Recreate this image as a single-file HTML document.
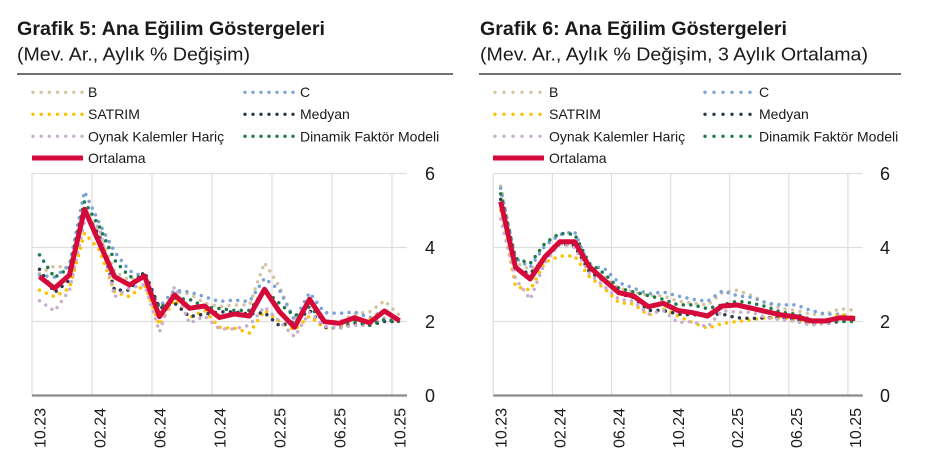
<!DOCTYPE html>
<html><head><meta charset="utf-8">
<style>
html,body{margin:0;padding:0;background:#fff;}
svg{display:block;}
text{font-family:"Liberation Sans",sans-serif;fill:#1a1a1a;}
.t{font-weight:bold;font-size:19.5px;}
.s{font-size:18px;}
.lg{font-size:14px;}
.yt{font-size:18px;text-anchor:middle;}
.xt{font-size:16px;text-anchor:end;}
.grid{stroke:#dedede;stroke-width:1.2;}
.ax{stroke:#8a8a8a;stroke-width:2.2;}
.d{fill:none;stroke-width:3.5;stroke-dasharray:0 7.5;stroke-linecap:round;stroke-linejoin:round;}
.r{fill:none;stroke:#d50a3a;stroke-width:5;stroke-linejoin:round;}
</style></head><body>
<svg width="936" height="476" viewBox="0 0 936 476" xmlns="http://www.w3.org/2000/svg">
<rect width="936" height="476" fill="#fff"/>

<!-- ===== LEFT ===== -->
<text class="t" x="17" y="35" textLength="308" lengthAdjust="spacingAndGlyphs">Grafik 5: Ana Eğilim Göstergeleri</text>
<text class="s" x="17" y="60.5" textLength="233" lengthAdjust="spacingAndGlyphs">(Mev. Ar., Aylık % Değişim)</text>
<line x1="17" y1="74" x2="453" y2="74" stroke="#1a1a1a" stroke-width="1.3"/>

<g fill="#d5c4a1"><circle cx="33" cy="92.3" r="1.7"/><circle cx="41.2" cy="92.3" r="1.7"/><circle cx="49.3" cy="92.3" r="1.7"/><circle cx="57.5" cy="92.3" r="1.7"/><circle cx="65.7" cy="92.3" r="1.7"/><circle cx="73.8" cy="92.3" r="1.7"/><circle cx="82" cy="92.3" r="1.7"/></g>
<g fill="#ffc000"><circle cx="33" cy="114.3" r="1.7"/><circle cx="41.2" cy="114.3" r="1.7"/><circle cx="49.3" cy="114.3" r="1.7"/><circle cx="57.5" cy="114.3" r="1.7"/><circle cx="65.7" cy="114.3" r="1.7"/><circle cx="73.8" cy="114.3" r="1.7"/><circle cx="82" cy="114.3" r="1.7"/></g>
<g fill="#c9afcf"><circle cx="33" cy="136.3" r="1.7"/><circle cx="41.2" cy="136.3" r="1.7"/><circle cx="49.3" cy="136.3" r="1.7"/><circle cx="57.5" cy="136.3" r="1.7"/><circle cx="65.7" cy="136.3" r="1.7"/><circle cx="73.8" cy="136.3" r="1.7"/><circle cx="82" cy="136.3" r="1.7"/></g>
<line x1="32" y1="158" x2="83" y2="158" stroke="#d50a3a" stroke-width="5"/>
<g fill="#7aa4d8"><circle cx="245" cy="92.3" r="1.7"/><circle cx="253" cy="92.3" r="1.7"/><circle cx="261" cy="92.3" r="1.7"/><circle cx="269" cy="92.3" r="1.7"/><circle cx="277" cy="92.3" r="1.7"/><circle cx="285" cy="92.3" r="1.7"/><circle cx="293" cy="92.3" r="1.7"/></g>
<g fill="#2e3b4a"><circle cx="245" cy="114.3" r="1.7"/><circle cx="253" cy="114.3" r="1.7"/><circle cx="261" cy="114.3" r="1.7"/><circle cx="269" cy="114.3" r="1.7"/><circle cx="277" cy="114.3" r="1.7"/><circle cx="285" cy="114.3" r="1.7"/><circle cx="293" cy="114.3" r="1.7"/></g>
<g fill="#1e7b4a"><circle cx="245" cy="136.3" r="1.7"/><circle cx="253" cy="136.3" r="1.7"/><circle cx="261" cy="136.3" r="1.7"/><circle cx="269" cy="136.3" r="1.7"/><circle cx="277" cy="136.3" r="1.7"/><circle cx="285" cy="136.3" r="1.7"/><circle cx="293" cy="136.3" r="1.7"/></g>
<text class="lg" x="88" y="97">B</text>
<text class="lg" x="88" y="119">SATRIM</text>
<text class="lg" x="88" y="141.5">Oynak Kalemler Hariç</text>
<text class="lg" x="88" y="163">Ortalama</text>
<text class="lg" x="300" y="97">C</text>
<text class="lg" x="300" y="119">Medyan</text>
<text class="lg" x="300" y="141.5">Dinamik Faktör Modeli</text>

<g class="grid">
<line x1="32" y1="173.5" x2="407" y2="173.5"/>
<line x1="32" y1="247.5" x2="407" y2="247.5"/>
<line x1="32" y1="321.5" x2="407" y2="321.5"/>
<line x1="32" y1="173.5" x2="32" y2="395.5"/>
<line x1="92" y1="173.5" x2="92" y2="395.5"/>
<line x1="152" y1="173.5" x2="152" y2="395.5"/>
<line x1="212" y1="173.5" x2="212" y2="395.5"/>
<line x1="272" y1="173.5" x2="272" y2="395.5"/>
<line x1="332" y1="173.5" x2="332" y2="395.5"/>
<line x1="392" y1="173.5" x2="392" y2="395.5"/>
</g>
<line class="ax" x1="32" y1="395.5" x2="407" y2="395.5"/>

<text class="yt" x="430" y="180">6</text>
<text class="yt" x="430" y="254">4</text>
<text class="yt" x="430" y="328">2</text>
<text class="yt" x="430" y="402">0</text>

<text class="xt" transform="translate(45.3,408) rotate(-90)">10.23</text>
<text class="xt" transform="translate(105.3,408) rotate(-90)">02.24</text>
<text class="xt" transform="translate(165.3,408) rotate(-90)">06.24</text>
<text class="xt" transform="translate(225.3,408) rotate(-90)">10.24</text>
<text class="xt" transform="translate(285.3,408) rotate(-90)">02.25</text>
<text class="xt" transform="translate(345.3,408) rotate(-90)">06.25</text>
<text class="xt" transform="translate(405.3,408) rotate(-90)">10.25</text>

<polyline class="d" stroke="#d5c4a1" points="39.5,273.4 54.5,266 69.5,267.9 84.5,206.8 99.5,232.7 114.5,271.6 129.5,280.1 144.5,277.1 159.5,317.8 174.5,291.9 189.5,293.8 204.5,303 219.5,306.7 234.5,304.9 249.5,304.9 264.5,262.7 279.5,286.7 294.5,321.5 309.5,299.3 324.5,321.5 339.5,321.5 354.5,314.1 369.5,311.9 384.5,300.8 399.5,315.6"/>
<polyline class="d" stroke="#7aa4d8" points="39.5,275.3 54.5,277.1 69.5,264.9 84.5,191.6 99.5,223.5 114.5,251.6 129.5,270.8 144.5,277.1 159.5,306.7 174.5,290.1 189.5,291.9 204.5,296.7 219.5,301.5 234.5,300 249.5,301.5 264.5,278.2 279.5,290.1 294.5,319.7 309.5,292.6 324.5,312.6 339.5,313.4 354.5,311.9 369.5,317.8 384.5,310.4 399.5,321.9"/>
<polyline class="d" stroke="#ffc000" points="39.5,290.1 54.5,296.7 69.5,288.2 84.5,233.1 99.5,250.1 114.5,291.9 129.5,296.7 144.5,284.5 159.5,325.2 174.5,299.3 189.5,317.8 204.5,310.4 219.5,327.4 234.5,328.2 249.5,333 264.5,310.4 279.5,321.5 294.5,330 309.5,316 324.5,328.2 339.5,327.1 354.5,321.5 369.5,319.7 384.5,310.4 399.5,321.5"/>
<polyline class="d" stroke="#2e3b4a" points="39.5,269.3 54.5,292.6 69.5,280.1 84.5,210.5 99.5,236.4 114.5,290.1 129.5,290.1 144.5,271.6 159.5,308.2 174.5,303 189.5,316.7 204.5,314.1 219.5,311.9 234.5,311.9 249.5,314.1 264.5,312.6 279.5,325.9 294.5,321.5 309.5,310.4 324.5,327.1 339.5,328.2 354.5,323.4 369.5,325.2 384.5,321.5 399.5,321.5"/>
<polyline class="d" stroke="#c9afcf" points="39.5,300.8 54.5,311.1 69.5,290.1 84.5,221.6 99.5,227.2 114.5,296.7 129.5,288.2 144.5,284.5 159.5,331.9 174.5,286.7 189.5,323.4 204.5,316 219.5,328.9 234.5,328.9 249.5,325.2 264.5,306.7 279.5,321.5 294.5,336.7 309.5,312.3 324.5,326.3 339.5,328.2 354.5,325.2 369.5,325.2 384.5,317.8 399.5,321.5"/>
<polyline class="d" stroke="#1e7b4a" points="39.5,254.9 54.5,277.5 69.5,267.9 84.5,201.6 99.5,226.8 114.5,260.1 129.5,276.7 144.5,277.1 159.5,308.2 174.5,298.2 189.5,299.3 204.5,306.7 219.5,308.6 234.5,310.4 249.5,310.4 264.5,290.1 279.5,303.4 294.5,316 309.5,306.7 324.5,321.5 339.5,323.4 354.5,321.5 369.5,325.2 384.5,319.7 399.5,321.5"/>
<polyline class="r" points="39.5,276.7 54.5,288.3 69.5,275 84.5,209.3 99.5,243.3 114.5,276.7 129.5,285 144.5,276 159.5,316.7 174.5,295 189.5,308.3 204.5,306 219.5,317.5 234.5,314 249.5,316 264.5,289.3 279.5,311.7 294.5,327.3 309.5,299.3 324.5,321.7 339.5,323.3 354.5,317.7 369.5,322.7 384.5,311 399.5,320.7"/>

<!-- ===== RIGHT ===== -->
<text class="t" x="480" y="35" textLength="307" lengthAdjust="spacingAndGlyphs">Grafik 6: Ana Eğilim Göstergeleri</text>
<text class="s" x="480" y="60.5" textLength="388" lengthAdjust="spacingAndGlyphs">(Mev. Ar., Aylık % Değişim, 3 Aylık Ortalama)</text>
<line x1="479" y1="74" x2="901" y2="74" stroke="#1a1a1a" stroke-width="1.3"/>

<g fill="#d5c4a1"><circle cx="495" cy="92.3" r="1.7"/><circle cx="504" cy="92.3" r="1.7"/><circle cx="513" cy="92.3" r="1.7"/><circle cx="522" cy="92.3" r="1.7"/><circle cx="531" cy="92.3" r="1.7"/><circle cx="540" cy="92.3" r="1.7"/></g>
<g fill="#ffc000"><circle cx="495" cy="114.3" r="1.7"/><circle cx="504" cy="114.3" r="1.7"/><circle cx="513" cy="114.3" r="1.7"/><circle cx="522" cy="114.3" r="1.7"/><circle cx="531" cy="114.3" r="1.7"/><circle cx="540" cy="114.3" r="1.7"/></g>
<g fill="#c9afcf"><circle cx="495" cy="136.3" r="1.7"/><circle cx="504" cy="136.3" r="1.7"/><circle cx="513" cy="136.3" r="1.7"/><circle cx="522" cy="136.3" r="1.7"/><circle cx="531" cy="136.3" r="1.7"/><circle cx="540" cy="136.3" r="1.7"/></g>
<line x1="493" y1="158" x2="544" y2="158" stroke="#d50a3a" stroke-width="5"/>
<g fill="#7aa4d8"><circle cx="705" cy="92.3" r="1.7"/><circle cx="714" cy="92.3" r="1.7"/><circle cx="723" cy="92.3" r="1.7"/><circle cx="732" cy="92.3" r="1.7"/><circle cx="741" cy="92.3" r="1.7"/><circle cx="750" cy="92.3" r="1.7"/></g>
<g fill="#2e3b4a"><circle cx="705" cy="114.3" r="1.7"/><circle cx="714" cy="114.3" r="1.7"/><circle cx="723" cy="114.3" r="1.7"/><circle cx="732" cy="114.3" r="1.7"/><circle cx="741" cy="114.3" r="1.7"/><circle cx="750" cy="114.3" r="1.7"/></g>
<g fill="#1e7b4a"><circle cx="705" cy="136.3" r="1.7"/><circle cx="714" cy="136.3" r="1.7"/><circle cx="723" cy="136.3" r="1.7"/><circle cx="732" cy="136.3" r="1.7"/><circle cx="741" cy="136.3" r="1.7"/><circle cx="750" cy="136.3" r="1.7"/></g>
<text class="lg" x="549" y="97">B</text>
<text class="lg" x="549" y="119">SATRIM</text>
<text class="lg" x="549" y="141.5">Oynak Kalemler Hariç</text>
<text class="lg" x="549" y="163">Ortalama</text>
<text class="lg" x="759" y="97">C</text>
<text class="lg" x="759" y="119">Medyan</text>
<text class="lg" x="759" y="141.5">Dinamik Faktör Modeli</text>

<g class="grid">
<line x1="493.3" y1="173.5" x2="862.7" y2="173.5"/>
<line x1="493.3" y1="247.5" x2="862.7" y2="247.5"/>
<line x1="493.3" y1="321.5" x2="862.7" y2="321.5"/>
<line x1="493.3" y1="173.5" x2="493.3" y2="395.5"/>
<line x1="552.4" y1="173.5" x2="552.4" y2="395.5"/>
<line x1="611.5" y1="173.5" x2="611.5" y2="395.5"/>
<line x1="670.6" y1="173.5" x2="670.6" y2="395.5"/>
<line x1="729.7" y1="173.5" x2="729.7" y2="395.5"/>
<line x1="788.8" y1="173.5" x2="788.8" y2="395.5"/>
<line x1="847.9" y1="173.5" x2="847.9" y2="395.5"/>
</g>
<line class="ax" x1="493.3" y1="395.5" x2="862.7" y2="395.5"/>

<text class="yt" x="885" y="180">6</text>
<text class="yt" x="885" y="254">4</text>
<text class="yt" x="885" y="328">2</text>
<text class="yt" x="885" y="402">0</text>

<text class="xt" transform="translate(506.5,408) rotate(-90)">10.23</text>
<text class="xt" transform="translate(565.6,408) rotate(-90)">02.24</text>
<text class="xt" transform="translate(624.7,408) rotate(-90)">06.24</text>
<text class="xt" transform="translate(683.8,408) rotate(-90)">10.24</text>
<text class="xt" transform="translate(742.9,408) rotate(-90)">02.25</text>
<text class="xt" transform="translate(802,408) rotate(-90)">06.25</text>
<text class="xt" transform="translate(861.1,408) rotate(-90)">10.25</text>

<polyline class="d" stroke="#d5c4a1" points="500.7,186.1 515.5,262.3 530.2,269.7 545,258.6 559.8,243.8 574.6,243.8 589.3,269.7 604.1,277.1 618.9,288.2 633.6,291.9 648.4,295.6 663.2,295.6 677.9,301.2 692.7,303 707.5,304.9 722.3,292.6 737,290.1 751.8,295.6 766.6,303 781.3,308.6 796.1,310.4 810.9,314.1 825.6,314.1 840.4,308.6 855.2,310.4"/>
<polyline class="d" stroke="#7aa4d8" points="500.7,188.3 515.5,258.6 530.2,267.1 545,245.7 559.8,234.6 574.6,231.6 589.3,266 604.1,268.2 618.9,282.7 633.6,288.2 648.4,293.8 663.2,291.9 677.9,296 692.7,299.3 707.5,301.2 722.3,290.8 737,295.6 751.8,297.5 766.6,303 781.3,304.9 796.1,304.9 810.9,310.4 825.6,314.1 840.4,314.1 855.2,317.8"/>
<polyline class="d" stroke="#ffc000" points="500.7,210.5 515.5,286.4 530.2,290.1 545,262.3 559.8,256 574.6,256 589.3,276.7 604.1,288.2 618.9,302.6 633.6,304.1 648.4,315.2 663.2,308.6 677.9,316 692.7,322.6 707.5,328.2 722.3,323.4 737,321.5 751.8,319.7 766.6,317.8 781.3,317.8 796.1,319.7 810.9,323.4 825.6,321.5 840.4,314.1 855.2,317.8"/>
<polyline class="d" stroke="#2e3b4a" points="500.7,199.4 515.5,269.7 530.2,273.4 545,258.6 559.8,243.8 574.6,245.7 589.3,271.6 604.1,280.8 618.9,293.8 633.6,297.5 648.4,310.4 663.2,310.4 677.9,314.1 692.7,314.9 707.5,314.1 722.3,314.1 737,317.8 751.8,318.5 766.6,317.8 781.3,317.8 796.1,319.7 810.9,323.4 825.6,323.4 840.4,321.5 855.2,319.7"/>
<polyline class="d" stroke="#c9afcf" points="500.7,219 515.5,278.6 530.2,299.3 545,262.3 559.8,243.8 574.6,247.5 589.3,273.4 604.1,286.4 618.9,299.3 633.6,301.2 648.4,314.1 663.2,310.4 677.9,322.6 692.7,321.5 707.5,327.1 722.3,310.4 737,312.3 751.8,312.3 766.6,317.8 781.3,319.7 796.1,321.5 810.9,325.2 825.6,323.4 840.4,319.7 855.2,319.7"/>
<polyline class="d" stroke="#1e7b4a" points="500.7,193.9 515.5,258.2 530.2,263.4 545,243.1 559.8,233.4 574.6,234.2 589.3,263.4 604.1,273.4 618.9,288.2 633.6,291.9 648.4,295.6 663.2,299.3 677.9,304.9 692.7,304.9 707.5,308.6 722.3,304.9 737,301.2 751.8,303 766.6,306.7 781.3,312.3 796.1,314.1 810.9,319.7 825.6,321.5 840.4,321.5 855.2,321.5"/>
<polyline class="r" points="500.7,201.7 515.5,267.3 530.2,279 545,256.7 559.8,241.7 574.6,241.7 589.3,266.7 604.1,280 618.9,292.7 633.6,296 648.4,306.7 663.2,303.3 677.9,310.5 692.7,312.7 707.5,316 722.3,306 737,305 751.8,308.3 766.6,311.7 781.3,315 796.1,316.7 810.9,320.7 825.6,321 840.4,317.7 855.2,318.5"/>
</svg>
</body></html>
